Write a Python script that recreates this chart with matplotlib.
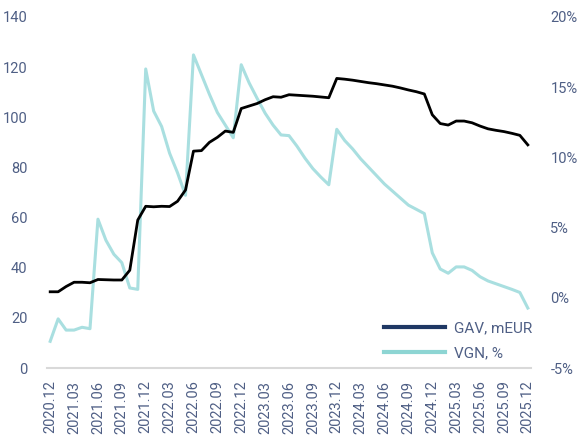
import matplotlib
matplotlib.use("Agg")
import matplotlib.pyplot as plt
from matplotlib.lines import Line2D
from matplotlib.ticker import FuncFormatter

# ---- data ----
months = []
y, m = 2020, 12
for _ in range(61):
    months.append(f"{y}.{m:02d}")
    m += 1
    if m > 12:
        m = 1
        y += 1

gav = [30.4, 30.4, 32.5, 34.2, 34.2, 34.0, 35.3, 35.2, 35.1, 35.1,
       39.0, 59.0, 64.5, 64.3, 64.5, 64.4, 66.5, 71.0, 86.5, 86.7,
       90.0, 92.0, 94.5, 94.0, 103.5, 104.5, 105.5, 107.0, 108.2, 108.0,
       109.0, 108.8, 108.6, 108.4, 108.1, 107.8, 115.5, 115.2, 114.8, 114.3,
       113.8, 113.4, 112.9, 112.4, 111.7, 110.9, 110.2, 109.3, 101.0, 97.5,
       96.9, 98.5, 98.5, 97.8, 96.5, 95.4, 94.8, 94.3, 93.6, 92.8, 89.0]

vgn = [-3.1, -1.5, -2.3, -2.3, -2.1, -2.2, 5.6, 4.1, 3.1, 2.5,
       0.7, 0.6, 16.3, 13.3, 12.2, 10.3, 8.9, 7.3, 17.3, 15.9,
       14.5, 13.2, 12.3, 11.4, 16.6, 15.3, 14.2, 13.15, 12.3, 11.6,
       11.55, 10.8, 9.95, 9.2, 8.6, 8.05, 12.0, 11.2, 10.6, 9.9,
       9.3, 8.7, 8.1, 7.6, 7.1, 6.6, 6.3, 6.0, 3.2, 2.05,
       1.75, 2.2, 2.2, 1.95, 1.5, 1.2, 1.0, 0.8, 0.6, 0.38, -0.73]

left_ticks = [0, 20, 40, 60, 80, 100, 120, 140]
right_ticks = [-5, 0, 5, 10, 15, 20]
legend_labels = ["GAV, mEUR", "VGN, %"]

# ---- style ----
plt.rcParams['font.family'] = ['Roboto', 'DejaVu Sans']
txt_color = '#4f5f85'
gav_color = '#000000'
vgn_color = '#a9dfe0'

fig = plt.figure(figsize=(5.77, 4.37), dpi=100)
ax = fig.add_axes([47/577, 1-368/437, (531-47)/577, (368-17)/437])
ax2 = ax.twinx()

x = list(range(len(months)))
ax2.plot(x, vgn, color=vgn_color, lw=2.2, zorder=1)
ax.plot(x, gav, color=gav_color, lw=2.0, zorder=3)
ax.set_zorder(ax2.get_zorder() + 1)
ax.patch.set_visible(False)

ax.set_xlim(-0.4, 60.4)
ax.set_ylim(0, 140)
ax2.set_ylim(-5, 20)
ax.set_yticks(left_ticks)
ax2.set_yticks(right_ticks)
ax2.yaxis.set_major_formatter(FuncFormatter(lambda v, p: f"{int(v)}%"))

ax.set_xticks(x[::3])
ax.set_xticklabels(months[::3], rotation=90)

for a in (ax, ax2):
    for s in a.spines.values():
        s.set_visible(False)
    a.tick_params(length=0, labelsize=10.5, labelcolor=txt_color)
ax.spines['bottom'].set_visible(True)
ax.spines['bottom'].set_color('#d9d9d9')
ax.spines['bottom'].set_linewidth(1.5)
ax.tick_params(axis='y', pad=14)
ax.tick_params(axis='x', pad=9)
ax2.tick_params(axis='y', pad=14)

handles = [Line2D([], [], color='#1f3864', lw=3),
           Line2D([], [], color='#8dd5d3', lw=3)]
leg = fig.legend(handles, legend_labels, loc='upper left',
                 bbox_to_anchor=(384/577, 1-321/437), frameon=False,
                 fontsize=11, handlelength=4.0, handletextpad=0.55,
                 labelspacing=0.72, borderpad=0, borderaxespad=0)
for t in leg.get_texts():
    t.set_color(txt_color)

fig.savefig("out.png", dpi=100)
